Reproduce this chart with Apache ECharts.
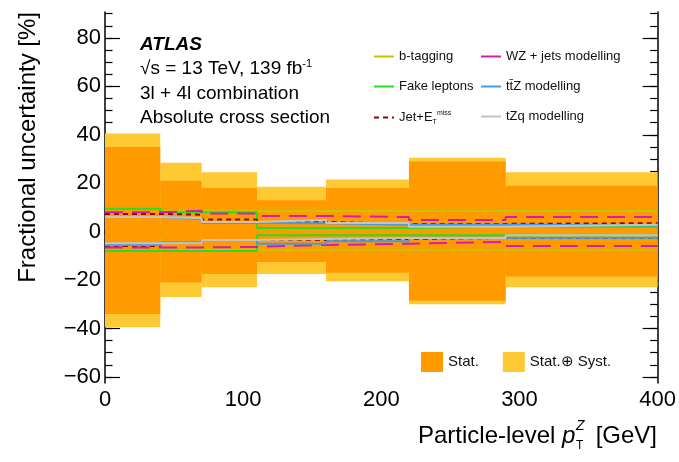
<!DOCTYPE html>
<html>
<head>
<meta charset="utf-8">
<script src="https://cdn.jsdelivr.net/npm/echarts@6/dist/echarts.min.js"></script>
<style>
  html, body { margin: 0; padding: 0; background: #fff; }
  #chart { width: 679px; height: 462px; }
</style>
</head>
<body>
<div id="chart"></div>
<script>
// bin edges in pT(Z) [GeV]
const binEdges = [0, 40, 70, 110, 160, 220, 290, 400];

// uncertainty bands [%]
const statUp   = [35, 21, 18, 13, 18, 29, 19];
const statDown = [-34, -21, -17.5, -12.5, -17, -28.5, -18.5];
const totUp    = [40.5, 28.5, 24.5, 18.5, 21.5, 30.5, 24.5];
const totDown  = [-39.5, -27, -23, -17.5, -20.5, -30, -23];

// individual systematics [%]
const bTagUp   = [9.5, 8.5, 8.5, 8.5, 8.5, 8.5, 8.5];
const bTagDown = [-8, -7.5, -7.5, -7.5, -7.5, -7.5, -7.5];
const fakeUp   = [9.5, 8, 8, 1.5, 1.5, 2, 2];
const fakeDown = [-8, -8, -8, -1.5, -1.5, -1.5, -1.5];
const jetUp    = [7.3, 7, 5, 4, 3.2, 3.2, 3.5];
const jetDown  = [-5.9, -4.7, -3.4, -3.4, -3, -2.6, -2.6];
const wzUp     = [8, 8.6, 7.5, 6.5, 6, 4.8, 6];
const wzDown   = [-6.5, -6.5, -6.3, -5.5, -5, -4.2, -5.9];
const ttzUp    = [6, 5.2, 3.6, 3.5, 2.8, 2.8, 2.5];
const ttzDown  = [-5.5, -4.5, -3.4, -5, -4, -2.5, -2.5];
const tzqUp    = [6, 5.6, 4, 4.8, 3.6, 2, 2.8];
const tzqDown  = [-4.8, -4.7, -3.4, -3, -2.6, -2.6, -1.5];

const yMajorTicks = [-60, -40, -20, 0, 20, 40, 60, 80];
const yMinorTicks = [-60, -55, -50, -45, -40, -35, -30, -25, -20, -15, -10, -5, 0, 5, 10, 15, 20, 25, 30, 35, 40, 45, 50, 55, 60, 65, 70, 75, 80, 85, 90];

const FONT = 'Liberation Sans';
const chart = echarts.init(document.getElementById('chart'));

function stepData(vals) {
  return binEdges.map((e, i) => [e, vals[Math.min(i, vals.length - 1)]]);
}
function bandData(lo, hi) {
  return lo.map((l, i) => [binEdges[i], binEdges[i + 1], l, hi[i]]);
}
function bandSeries(name, lo, hi, color, z) {
  return {
    name: name,
    type: 'custom',
    z: z,
    itemStyle: { color: color },
    encode: { x: [0, 1], y: [2, 3] },
    data: bandData(lo, hi),
    renderItem: function (params, api) {
      const p0 = api.coord([api.value(0), api.value(3)]);
      const p1 = api.coord([api.value(1), api.value(2)]);
      return {
        type: 'rect',
        shape: { x: p0[0], y: p0[1], width: p1[0] - p0[0], height: p1[1] - p0[1] },
        style: { fill: color }
      };
    }
  };
}
function stepSeries(name, vals, color, type, z) {
  return {
    name: name,
    type: 'line',
    step: 'end',
    symbol: 'none',
    z: z,
    silent: true,
    itemStyle: { color: color },
    lineStyle: { color: color, width: 2, type: type },
    data: stepData(vals)
  };
}
const minus = v => String(v).replace('-', '\u2212');

const lines = [
  ['b-tagging', bTagUp, bTagDown, '#c8c400', 'solid'],
  ['Fake leptons', fakeUp, fakeDown, '#22e022', 'solid'],
  ['Jet+E', jetUp, jetDown, '#9a0000', [5, 4]],
  ['WZ + jets modelling', wzUp, wzDown, '#d41cb4', [18, 9]],
  ['tt\u0304Z modelling', ttzUp, ttzDown, '#3f9cf0', 'solid'],
  ['tZq modelling', tzqUp, tzqDown, '#c4c4c4', 'solid']
];

const series = [
  bandSeries('Stat.\u2295 Syst.', totDown, totUp, '#ffc933', 1),
  bandSeries('Stat.', statDown, statUp, '#ff9a00', 2)
];
lines.forEach((l, k) => {
  series.push(stepSeries(l[0], l[1], l[3], l[4], 3 + k));
  series.push(stepSeries(l[0], l[2], l[3], l[4], 3 + k));
});

const legendText = { fontFamily: FONT, fontSize: 13, color: '#111',
  rich: {
    n: { fontFamily: FONT, fontSize: 13, color: '#111' },
    sub: { fontFamily: FONT, fontSize: 7, color: '#111', padding: [9, 0, 0, 0] },
    sup: { fontFamily: FONT, fontSize: 7, color: '#111', padding: [0, 0, 8, 0] }
  }
};

chart.setOption({
  animation: false,
  grid: { left: 105, right: 21, top: 12, bottom: 79 },
  xAxis: [
    {
      type: 'value', min: 0, max: 400, interval: 100, position: 'bottom',
      axisLine: { lineStyle: { color: '#000', width: 1.5 } },
      axisTick: { inside: true, length: 11, lineStyle: { color: '#000', width: 1.2 } },
      minorTick: { show: true, splitNumber: 5, length: 5.5, lineStyle: { color: '#000', width: 1.2 } },
      axisLabel: { fontFamily: FONT, fontSize: 22, color: '#000', margin: 6 },
      splitLine: { show: false }
    },
    {
      type: 'value', min: 0, max: 400, interval: 100, position: 'top',
      axisLine: { lineStyle: { color: '#000', width: 1.5 } },
      axisTick: { inside: true, length: 11, lineStyle: { color: '#000', width: 1.2 } },
      minorTick: { show: true, splitNumber: 5, length: 5.5, lineStyle: { color: '#000', width: 1.2 } },
      axisLabel: { show: false },
      splitLine: { show: false }
    }
  ],
  yAxis: [
    {
      type: 'value', min: -62.5, max: 90.7, position: 'left',
      axisLine: { show: true, lineStyle: { color: '#000', width: 1.5 } },
      axisTick: { inside: true, length: 15, customValues: yMajorTicks, lineStyle: { color: '#000', width: 1.2 } },
      axisLabel: { customValues: yMajorTicks, fontFamily: FONT, fontSize: 22, color: '#000', margin: 4, formatter: minus },
      splitLine: { show: false }
    },
    {
      type: 'value', min: -62.5, max: 90.7, position: 'left',
      axisLine: { show: false },
      axisTick: { inside: true, length: 7.5, customValues: yMinorTicks, lineStyle: { color: '#000', width: 1.2 } },
      axisLabel: { show: false },
      splitLine: { show: false }
    },
    {
      type: 'value', min: -62.5, max: 90.7, position: 'right',
      axisLine: { show: true, lineStyle: { color: '#000', width: 1.5 } },
      axisTick: { inside: true, length: 15, customValues: yMajorTicks, lineStyle: { color: '#000', width: 1.2 } },
      axisLabel: { show: false },
      splitLine: { show: false }
    },
    {
      type: 'value', min: -62.5, max: 90.7, position: 'right',
      axisLine: { show: false },
      axisTick: { inside: true, length: 7.5, customValues: yMinorTicks, lineStyle: { color: '#000', width: 1.2 } },
      axisLabel: { show: false },
      splitLine: { show: false }
    }
  ],
  legend: [
    {
      left: 368, top: 45, orient: 'vertical', itemWidth: 20, itemHeight: 14, itemGap: 17,
      itemStyle: { opacity: 0 },
      data: ['b-tagging', 'Fake leptons', 'Jet+E'],
      formatter: n => n === 'Jet+E' ? '{n|Jet+E}{sub|T}{sup|miss}' : n,
      textStyle: legendText
    },
    {
      left: 475, top: 45, orient: 'vertical', itemWidth: 20, itemHeight: 14, itemGap: 17,
      itemStyle: { opacity: 0 },
      data: [
        { name: 'WZ + jets modelling', lineStyle: { type: 'solid' } },
        'tt\u0304Z modelling',
        'tZq modelling'
      ],
      textStyle: legendText
    },
    {
      left: 416, top: 347, orient: 'horizontal', itemWidth: 22, itemHeight: 20, itemGap: 24,
      icon: 'rect',
      data: ['Stat.', 'Stat.\u2295 Syst.'],
      textStyle: { fontFamily: FONT, fontSize: 15, color: '#111' }
    }
  ],
  graphic: [
    { type: 'text', left: 140, top: 35, style: { text: 'ATLAS', fontFamily: FONT, fontSize: 19, fontWeight: 'bold', fontStyle: 'italic', fill: '#000' } },
    { type: 'text', left: 140, top: 58, style: {
      text: '{n|\u221As = 13 TeV, 139 fb}{s|-1}', fill: '#000',
      rich: { n: { fontFamily: FONT, fontSize: 19, fill: '#000' }, s: { fontFamily: FONT, fontSize: 11, fill: '#000', padding: [0, 0, 10, 0] } }
    } },
    { type: 'text', left: 140, top: 84, style: { text: '3l + 4l combination', fontFamily: FONT, fontSize: 19, fill: '#000' } },
    { type: 'text', left: 140, top: 108, style: { text: 'Absolute cross section', fontFamily: FONT, fontSize: 19, fill: '#000' } },
    { type: 'text', x: 40, y: 12, rotation: Math.PI / 2, style: {
      text: 'Fractional uncertainty [%]', fontFamily: FONT, fontSize: 24, fill: '#000', align: 'right', verticalAlign: 'bottom' } },
    { type: 'text', x: 418, y: 448, style: {
      text: '{a|Particle-level }{i|p}', align: 'left', verticalAlign: 'bottom',
      rich: { a: { fontFamily: FONT, fontSize: 24, fill: '#000' }, i: { fontFamily: FONT, fontSize: 24, fontStyle: 'italic', fill: '#000' } } } },
    { type: 'text', x: 576, y: 419, style: { text: 'Z', fontFamily: FONT, fontSize: 14, fontStyle: 'italic', fill: '#000' } },
    { type: 'text', x: 576, y: 440, style: { text: 'T', fontFamily: FONT, fontSize: 12, fill: '#000' } },
    { type: 'text', x: 657, y: 448, style: { text: '[GeV]', fontFamily: FONT, fontSize: 24, fill: '#000', align: 'right', verticalAlign: 'bottom' } }
  ],
  series: series
});
</script>
</body>
</html>
